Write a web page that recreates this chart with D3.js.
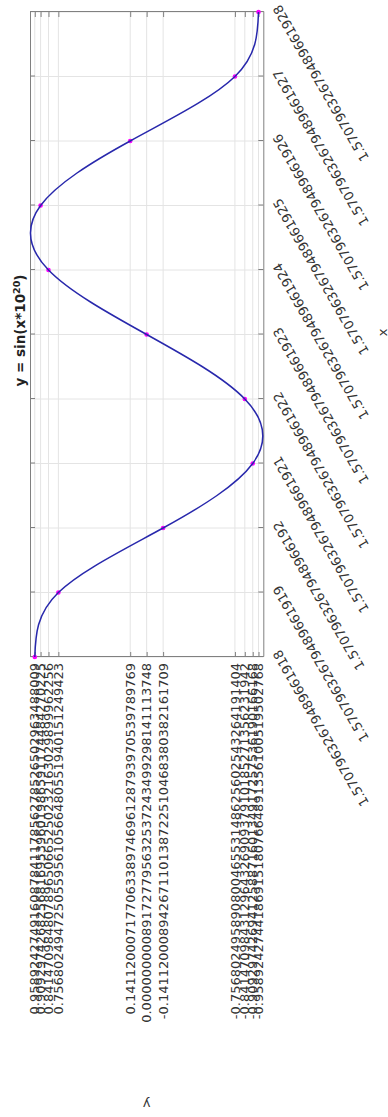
<!DOCTYPE html>
<html>
<head>
<meta charset="utf-8">
<script src="https://cdn.jsdelivr.net/npm/d3@7"></script>
<style>
  body { margin: 0; background: #fff; }
  svg text { font-family: "DejaVu Sans", sans-serif; }
</style>
</head>
<body>
<div id="chart"></div>
<script>
// x tick labels (values too long for doubles, kept as text)
const xLabels = [
  "1.57079632679489661918", "1.57079632679489661919", "1.5707963267948966192",
  "1.57079632679489661921", "1.57079632679489661922", "1.57079632679489661923",
  "1.57079632679489661924", "1.57079632679489661925", "1.57079632679489661926",
  "1.57079632679489661927", "1.57079632679489661928"
];
// y = sin(x*10^20) at each x above
const yValues = [
  0.958924274663, 0.756802495308, -0.141120008060, -0.909297426826, -0.841470984808,
  0.0, 0.841470984808, 0.909297426826, 0.141120008060, -0.756802495308, -0.958924274663
];
// y tick labels as printed on the axis
const yTickLabels = [
  "-0.95892427441869151807664891356100519502768",
  "-0.90929742694125887160134917257536190166168",
  "-0.84147098431296432690937910185271356231942",
  "-0.75680249589080046553148625602543264191404",
  "-0.14112000894267110138722510468380382161709",
  "0.000000000891727795632537243499298141113748",
  "0.14112000717706338974696128793970539789769",
  "0.75680249472505595610566480551940151249423",
  "0.84147098480789650665250232163029899962256",
  "0.90929742682568169539601986591174484270225",
  "0.95892427491608784117856278526502963488009"
];
const yDomain = [-1, 1];

// the picture is the plot turned a quarter turn counter-clockwise,
// so draw it in its own upright frame and rotate the group
const W = 1117, H = 388;
const margin = {top: 30, right: 12, bottom: 124.7, left: 460};
const x0 = margin.left, x1 = W - margin.right;
const y0 = margin.top, y1 = H - margin.bottom;

const svg = d3.select("#chart").append("svg")
  .attr("width", H)
  .attr("height", W);

const g = svg.append("g")
  .attr("transform", `translate(0,${W}) rotate(-90)`);

const x = d3.scalePoint().domain(xLabels).range([x0, x1]);
const y = d3.scaleLinear().domain(yDomain).range([y1, y0]);
const yTicks = yTickLabels.map(Number);

// grid
g.append("g").selectAll("line").data(xLabels).join("line")
  .attr("x1", d => x(d)).attr("x2", d => x(d))
  .attr("y1", y0).attr("y2", y1)
  .style("stroke", "#e4e4e4");
g.append("g").selectAll("line").data(yTicks).join("line")
  .attr("x1", x0).attr("x2", x1)
  .attr("y1", d => y(d)).attr("y2", d => y(d))
  .style("stroke", "#e4e4e4");

// axes, ticks pointing inwards on all four sides
const xAxis = g.append("g")
  .attr("transform", `translate(0,${y1})`)
  .call(d3.axisBottom(x).tickSizeInner(-5).tickSizeOuter(0).tickPadding(0));
xAxis.selectAll("text")
  .attr("y", 0).attr("dy", "0.71em")
  .attr("text-anchor", "end")
  .attr("transform", "translate(3,9) rotate(-30)");

const yAxis = g.append("g")
  .attr("transform", `translate(${x0},0)`)
  .call(d3.axisLeft(y).tickValues(yTicks).tickFormat((d, i) => yTickLabels[i])
    .tickSizeInner(-5).tickSizeOuter(0).tickPadding(6));

g.append("g")
  .attr("transform", `translate(0,${y0})`)
  .call(d3.axisTop(x).tickSizeInner(-5).tickSizeOuter(0).tickFormat(""));
g.append("g")
  .attr("transform", `translate(${x1},0)`)
  .call(d3.axisRight(y).tickValues(yTicks).tickSizeInner(-5).tickSizeOuter(0).tickFormat(""));

g.selectAll(".domain, .tick line").style("stroke", "#808080");
g.selectAll(".tick text").style("font-size", "13px").style("fill", "#333");

// points then the curve through them
g.append("g").selectAll("circle").data(yValues).join("circle")
  .attr("cx", (d, i) => x(xLabels[i]))
  .attr("cy", d => y(d))
  .attr("r", 2.3)
  .style("fill", "#ff00ff");

const line = d3.line()
  .x((d, i) => x(xLabels[i]))
  .y(d => y(d))
  .curve(d3.curveNatural);

g.append("path")
  .datum(yValues)
  .attr("d", line)
  .style("fill", "none")
  .style("stroke", "#2828ac")
  .style("stroke-width", 1.5);

// titles
const title = g.append("text")
  .attr("x", (x0 + x1) / 2 + 4)
  .attr("y", 25)
  .attr("text-anchor", "middle")
  .style("font-size", "13.5px")
  .style("font-weight", "bold")
  .style("fill", "#222");
title.append("tspan").text("y = sin(x*10");
title.append("tspan").attr("dy", -5).style("font-size", "9.5px").text("20");
title.append("tspan").attr("dy", 5).text(")");

g.append("text")
  .attr("x", (x0 + x1) / 2 + 2)
  .attr("y", 386.5)
  .attr("text-anchor", "middle")
  .style("font-size", "13px")
  .style("fill", "#333")
  .text("x");

g.append("text")
  .attr("transform", `translate(17,${(y0 + y1) / 2}) rotate(-90)`)
  .attr("text-anchor", "middle")
  .style("font-size", "13px")
  .style("fill", "#333")
  .text("y");
</script>
</body>
</html>
